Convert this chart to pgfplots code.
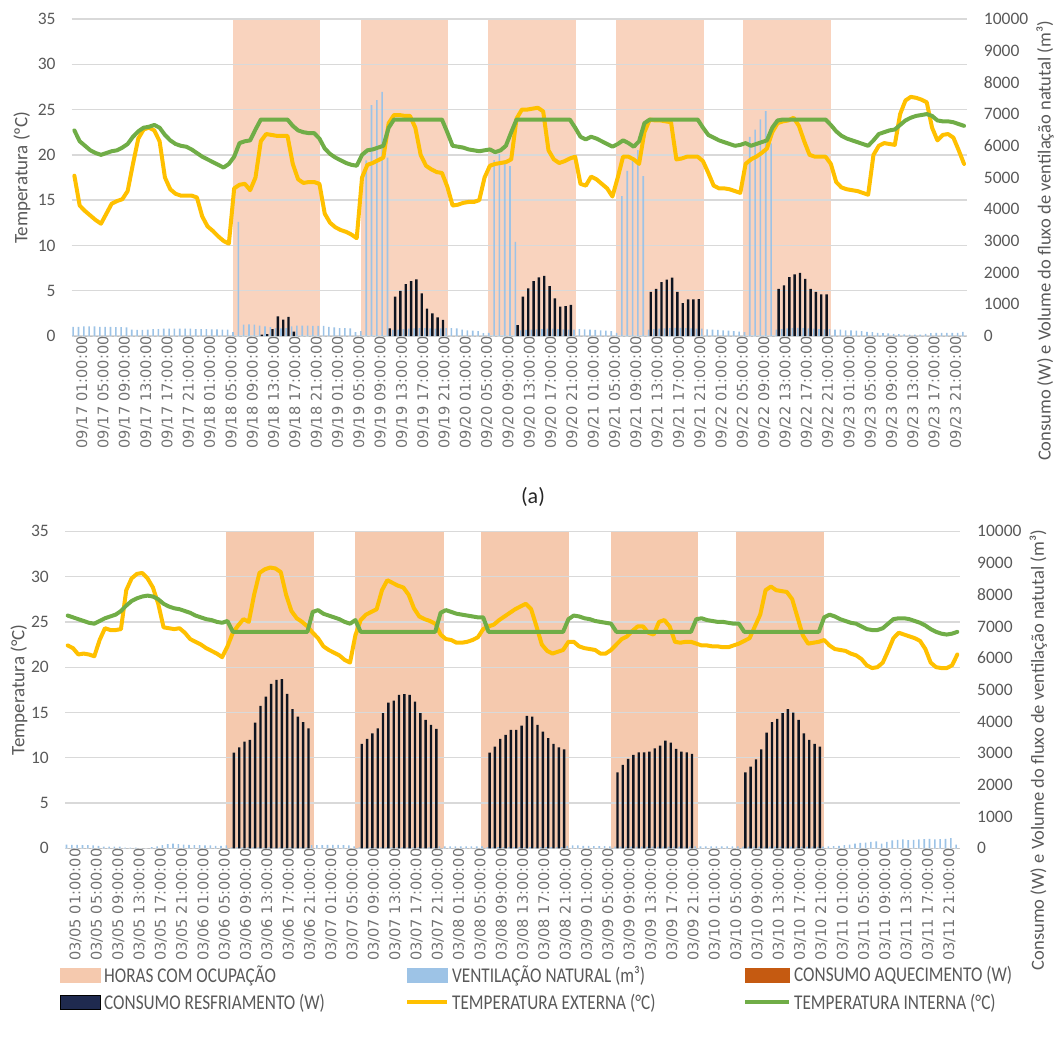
\documentclass[border=0pt]{standalone}
\usepackage{fontspec}
\setmainfont{Carlito}
\newfontfamily\dejavu{DejaVu Sans}
\usepackage{graphicx}
\usepackage{pgfplots}
\usepackage{pgfplotstable}
\pgfplotsset{compat=1.18}
\definecolor{occA}{HTML}{F9D3BE}
\definecolor{occB}{HTML}{F5C9AE}
\definecolor{vent}{HTML}{9DC3E6}
\definecolor{heat}{HTML}{C55A11}
\definecolor{cool}{HTML}{0E1420}
\definecolor{coolleg}{HTML}{1F2A4F}
\definecolor{tout}{HTML}{FFC000}
\definecolor{tin}{HTML}{70AD47}
\definecolor{gridc}{HTML}{D9D9D9}
\definecolor{txt}{HTML}{595959}

\pgfplotstableread{
tout tin vent cool
17.7 22.7 290 0
14.4 21.5 290 0
13.8 21.0 300 0
13.3 20.5 300 0
12.8 20.2 300 0
12.4 20.0 290 0
13.5 20.2 290 0
14.6 20.4 290 0
14.9 20.5 280 0
15.1 20.8 280 0
16.0 21.2 270 0
19.0 22.0 200 0
21.8 22.6 190 0
22.8 23.0 190 0
23.0 23.1 200 0
22.7 23.3 220 0
21.5 23.0 220 0
17.5 22.2 230 0
16.2 21.6 230 0
15.7 21.2 230 0
15.5 21.0 230 0
15.5 20.9 230 0
15.5 20.6 230 0
15.3 20.2 220 0
13.2 19.8 220 0
12.1 19.5 220 0
11.6 19.2 210 0
11.0 18.9 210 0
10.5 18.6 200 0
10.2 19.0 200 0
16.3 19.8 120 0
16.7 21.3 3600 0
16.8 21.5 360 0
16.1 21.6 370 0
17.5 22.8 360 0
21.5 23.9 330 40
22.3 23.9 300 60
22.2 23.9 280 220
22.1 23.9 250 620
22.1 23.9 240 520
22.1 23.9 250 600
19.0 23.2 300 140
17.3 22.7 330 0
16.9 22.5 330 0
17.0 22.4 330 0
17.0 22.4 320 0
16.8 21.8 320 0
13.5 20.7 320 0
12.5 20.1 290 0
12.0 19.7 270 0
11.7 19.4 250 0
11.5 19.1 250 0
11.2 18.9 240 0
10.8 18.8 120 0
17.5 20.0 150 0
18.9 20.5 5540 0
19.1 20.6 7280 0
19.4 20.8 7440 0
19.7 21.0 7700 0
23.5 23.0 5630 240
24.4 23.9 190 1240
24.4 23.9 200 1420
24.3 23.9 220 1640
24.3 23.9 230 1735
23.0 23.9 240 1785
20.0 23.9 250 1345
18.8 23.9 250 860
18.4 23.9 240 715
18.1 23.9 230 590
18.0 23.9 240 505
16.5 22.5 250 0
14.4 21.0 250 0
14.5 20.9 240 0
14.7 20.8 200 0
14.8 20.6 180 0
14.8 20.5 170 0
15.0 20.4 150 0
17.5 20.5 90 0
18.8 20.6 100 0
19.0 20.3 5550 0
19.1 20.5 5740 0
19.2 21.0 5540 0
19.5 22.5 5360 0
24.0 23.9 2970 347
25.0 23.9 180 1240
25.0 23.9 190 1500
25.1 23.9 200 1735
25.2 23.9 210 1850
24.8 23.9 220 1900
20.5 23.9 230 1575
19.5 23.9 230 1190
19.1 23.9 220 925
19.3 23.9 210 945
19.6 23.9 200 980
19.8 23.0 200 0
16.8 22.0 220 0
16.6 21.7 210 0
17.6 22.0 200 0
17.3 21.8 190 0
16.8 21.5 180 0
16.3 21.2 170 0
15.4 20.9 150 0
17.5 21.2 100 0
19.8 21.6 4410 0
19.8 21.3 5210 0
19.5 20.9 5600 0
19.0 21.5 5860 0
22.5 23.5 5040 0
23.9 23.9 200 1390
23.8 23.9 220 1490
23.8 23.9 230 1700
23.7 23.9 240 1780
23.6 23.9 250 1840
19.5 23.9 260 1390
19.6 23.9 260 1040
19.8 23.9 250 1155
19.8 23.9 240 1155
19.8 23.9 230 1160
19.3 23.0 230 0
18.0 22.2 210 0
16.6 21.9 200 0
16.3 21.6 190 0
16.3 21.4 180 0
16.2 21.2 170 0
16.0 21.0 150 0
15.8 21.1 140 0
19.0 21.3 120 0
19.5 21.0 6280 0
19.8 21.2 6510 0
20.2 21.4 6830 0
20.7 21.6 7090 0
22.5 23.0 6080 0
23.5 23.8 200 1490
23.7 23.9 220 1600
23.8 23.9 240 1860
24.1 23.9 250 1945
23.2 23.9 260 1990
21.5 23.9 250 1800
20.0 23.9 240 1490
19.8 23.9 230 1390
19.8 23.9 220 1310
19.8 23.9 210 1310
19.0 23.3 220 0
17.0 22.6 200 0
16.4 22.1 200 0
16.2 21.8 180 0
16.1 21.6 180 0
16.0 21.4 170 0
15.8 21.2 150 0
15.6 21.0 130 0
20.0 21.6 120 0
21.0 22.3 100 0
21.3 22.5 90 0
21.2 22.7 80 0
21.1 22.8 70 0
24.5 23.3 60 0
26.0 23.8 50 0
26.4 24.1 40 0
26.3 24.3 40 0
26.1 24.4 40 0
25.8 24.5 70 0
23.0 24.3 90 0
21.6 23.8 100 0
22.2 23.7 100 0
22.3 23.7 100 0
21.9 23.6 100 0
20.5 23.4 100 0
19.0 23.2 130 0
}\tabA

\pgfplotstableread{
tout tin vent cool
22.4 25.7 120 0
22.1 25.5 110 0
21.4 25.3 110 0
21.5 25.1 100 0
21.4 24.9 100 0
21.2 24.8 90 0
23.0 25.1 80 0
24.3 25.4 50 0
24.1 25.6 50 0
24.1 25.8 50 0
24.2 26.2 50 0
28.5 26.8 20 0
29.8 27.3 20 0
30.3 27.6 20 0
30.4 27.8 0 0
29.8 27.9 0 0
28.8 27.8 40 0
27.0 27.5 60 0
24.4 27.0 100 0
24.3 26.7 130 0
24.2 26.5 150 0
24.3 26.4 130 0
23.8 26.2 120 0
23.1 26.0 110 0
22.8 25.7 100 0
22.5 25.5 100 0
22.1 25.3 90 0
21.8 25.2 90 0
21.5 25.0 80 0
21.1 24.9 80 0
22.3 25.1 90 0
23.8 23.9 30 3019
24.6 23.9 30 3187
25.3 23.9 30 3366
25.0 23.9 30 3419
28.0 23.9 30 3966
30.4 23.9 30 4492
30.8 23.9 30 4787
31.0 23.9 30 5186
30.9 23.9 30 5313
30.5 23.9 30 5334
28.0 23.9 30 4871
26.2 23.9 30 4387
25.4 23.9 30 4155
25.0 23.9 30 3977
24.5 23.9 30 3787
23.8 26.1 100 0
23.2 26.3 100 0
22.3 25.9 100 0
21.9 25.7 110 0
21.6 25.5 110 0
21.3 25.3 110 0
20.8 25.0 100 0
20.5 24.8 90 0
23.5 25.2 60 0
25.2 23.9 30 3293
25.8 23.9 30 3451
26.1 23.9 30 3629
26.4 23.9 30 3787
28.5 23.9 30 4261
29.6 23.9 30 4597
29.3 23.9 30 4660
29.0 23.9 30 4839
28.8 23.9 30 4860
28.0 23.9 30 4839
26.5 23.9 30 4629
25.6 23.9 30 4261
25.3 23.9 30 4050
25.1 23.9 30 3892
24.8 23.9 30 3766
23.6 26.0 60 0
23.1 26.3 60 0
23.0 26.1 60 0
22.7 25.9 60 0
22.7 25.8 60 0
22.8 25.7 60 0
23.0 25.6 60 0
23.3 25.5 60 0
24.2 25.5 60 0
24.5 23.9 40 3019
24.7 23.9 40 3208
25.2 23.9 40 3451
25.6 23.9 40 3577
26.0 23.9 40 3735
26.4 23.9 40 3735
26.7 23.9 40 3871
27.0 23.9 40 4176
26.4 23.9 40 4155
24.5 23.9 40 3892
22.5 23.9 40 3682
21.8 23.9 40 3472
21.5 23.9 40 3293
21.7 23.9 40 3187
21.9 23.9 40 3124
22.8 25.3 80 0
22.8 25.7 90 0
22.3 25.6 90 0
22.1 25.4 80 0
22.0 25.3 80 0
21.9 25.1 70 0
21.5 25.0 70 0
21.5 24.9 70 0
21.9 24.8 60 0
22.5 23.9 50 2399
23.1 23.9 50 2630
23.4 23.9 50 2819
24.0 23.9 50 2946
24.5 23.9 50 3030
24.5 23.9 50 3030
23.8 23.9 50 3051
23.6 23.9 50 3156
25.0 23.9 50 3240
25.2 23.9 50 3398
24.5 23.9 50 3335
22.8 23.9 50 3135
22.7 23.9 50 3051
22.8 23.9 50 3030
22.8 23.9 50 2977
22.6 25.3 60 0
22.4 25.4 60 0
22.4 25.2 60 0
22.3 25.1 60 0
22.3 25.0 60 0
22.2 25.0 60 0
22.2 24.9 60 0
22.4 24.8 60 0
22.6 24.8 60 0
22.9 23.9 50 2399
23.2 23.9 50 2577
24.5 23.9 50 2809
25.8 23.9 50 3124
28.5 23.9 50 3650
28.9 23.9 50 3977
28.5 23.9 50 4082
28.4 23.9 50 4261
28.3 23.9 50 4387
27.5 23.9 50 4282
25.5 23.9 50 4050
23.5 23.9 50 3629
22.6 23.9 50 3419
22.7 23.9 50 3293
22.8 23.9 50 3208
23.0 25.5 50 0
22.4 25.8 60 0
22.0 25.6 70 0
21.9 25.3 80 0
21.8 25.1 100 0
21.5 24.9 120 0
21.3 24.8 150 0
20.9 24.5 170 0
20.2 24.2 180 0
19.9 24.1 200 0
20.0 24.1 220 0
20.5 24.3 150 0
21.8 24.8 200 0
23.2 25.3 250 0
23.8 25.4 270 0
23.6 25.4 280 0
23.4 25.3 260 0
23.2 25.1 270 0
22.9 24.9 280 0
22.0 24.6 290 0
20.5 24.2 300 0
20.0 23.9 280 0
19.9 23.7 290 0
19.9 23.6 300 0
20.2 23.7 320 0
21.4 23.9 120 0
}\tabB

\newcommand\lgt[2]{\makebox[#1][l]{\hspace{3pt}\scalebox{0.82}[1]{\fontsize{21}{22}\selectfont\strut #2}}}

\pgfplotsset{
  base/.style={scale only axis, width=895pt, height=317pt, xmin=-0.5, xmax=167.5,
    enlargelimits=false, axis line style={draw=none}, major tick length=0pt,
    tick style={draw=none}},
  leftax/.style={base, ymin=0, ymax=35, ytick={0,5,...,35}, ytick pos=left, xtick={0,4,...,164}, xtick pos=left,
    xticklabel style={font=\dejavu\fontsize{14.6}{15}\selectfont, text=txt!85, rotate=90, anchor=east, inner sep=0pt, yshift=-8pt},
    yticklabel style={font=\fontsize{17.5}{18}\selectfont, text=txt, anchor=east, inner sep=0pt, xshift=-16pt},
    /pgf/number format/assume math mode=true,
    ylabel style={font=\fontsize{19}{20}\selectfont, text=txt, rotate=0, anchor=center, inner sep=0pt}},
  rightax/.style={base, ymin=0, ymax=10000, ytick={0,1000,...,10000}, ytick pos=right, yticklabel pos=right, xtick=\empty,
    scaled y ticks=false,
    /pgf/number format/1000 sep={}, /pgf/number format/assume math mode=true,
    yticklabel style={font=\fontsize{17.5}{18}\selectfont, text=txt, anchor=west, inner sep=0pt, xshift=17pt},
    extra y ticks={0,1428.5714,2857.1429,4285.7143,5714.2857,7142.8571,8571.4286,10000},
    extra y tick labels={}, extra y tick style={grid=major},
    major grid style={draw=gridc, line width=1.3pt},
    ylabel={Consumo (W) e Volume do fluxo de ventilação natutal (m³)},
    ylabel style={font=\fontsize{18.5}{19}\selectfont, text=txt, rotate=0, anchor=center, inner sep=0pt,
      at={(axis description cs:1.0875,0.30)}}},
  lineax/.style={base, ymin=0, ymax=35, xtick=\empty, ytick=\empty},
  vbar/.style={ybar, bar width=0.3, bar shift=-0.22, fill=vent, draw=none},
  cbar/.style={ybar, bar width=0.45, bar shift=0.2, fill=cool, draw=none},
  lout/.style={draw=tout, line width=4pt, line join=round, line cap=round, mark=none},
  lin/.style={draw=tin, line width=4pt, line join=round, line cap=round, mark=none},
}

\begin{document}
\begin{tikzpicture}
\useasboundingbox (0pt,0pt) rectangle (1057pt,-1043pt);

% ---------------- Panel (a) ----------------
\begin{axis}[leftax, at={(71.7pt,-336pt)}, anchor=south west,
  ylabel={Temperatura (ºC)}, ylabel style={at={(axis description cs:-0.0555,0.5)}},
  xticklabels={09/17 01:00:00,09/17 05:00:00,09/17 09:00:00,09/17 13:00:00,09/17 17:00:00,09/17 21:00:00,
  09/18 01:00:00,09/18 05:00:00,09/18 09:00:00,09/18 13:00:00,09/18 17:00:00,09/18 21:00:00,
  09/19 01:00:00,09/19 05:00:00,09/19 09:00:00,09/19 13:00:00,09/19 17:00:00,09/19 21:00:00,
  09/20 01:00:00,09/20 05:00:00,09/20 09:00:00,09/20 13:00:00,09/20 17:00:00,09/20 21:00:00,
  09/21 01:00:00,09/21 05:00:00,09/21 09:00:00,09/21 13:00:00,09/21 17:00:00,09/21 21:00:00,
  09/22 01:00:00,09/22 05:00:00,09/22 09:00:00,09/22 13:00:00,09/22 17:00:00,09/22 21:00:00,
  09/23 01:00:00,09/23 05:00:00,09/23 09:00:00,09/23 13:00:00,09/23 17:00:00,09/23 21:00:00}]
\addplot[fill=occA, draw=none] coordinates {(29.7,35) (46.2,35)} \closedcycle;
\addplot[fill=occA, draw=none] coordinates {(53.8,35) (70.2,35)} \closedcycle;
\addplot[fill=occA, draw=none] coordinates {(77.7,35) (94.1,35)} \closedcycle;
\addplot[fill=occA, draw=none] coordinates {(101.7,35) (118.2,35)} \closedcycle;
\addplot[fill=occA, draw=none] coordinates {(125.6,35) (142.0,35)} \closedcycle;
\end{axis}
\begin{axis}[rightax, at={(71.7pt,-336pt)}, anchor=south west]
\addplot[vbar] table[x expr=\coordindex, y=vent] {\tabA};
\addplot[cbar] table[x expr=\coordindex, y=cool] {\tabA};
\end{axis}
\begin{axis}[lineax, at={(71.7pt,-336pt)}, anchor=south west]
\addplot[lout] table[x expr=\coordindex, y=tout] {\tabA};
\addplot[lin] table[x expr=\coordindex, y=tin] {\tabA};
\end{axis}

\node[font=\fontsize{22}{24}\selectfont, text=black!85] at (533pt,-497pt) {(a)};

% ---------------- Panel (b) ----------------
\begin{axis}[leftax, at={(65pt,-848.3pt)}, anchor=south west,
  ylabel={Temperatura (°C)}, ylabel style={at={(axis description cs:-0.0514,0.5)}},
  xticklabels={03/05 01:00:00,03/05 05:00:00,03/05 09:00:00,03/05 13:00:00,03/05 17:00:00,03/05 21:00:00,
  03/06 01:00:00,03/06 05:00:00,03/06 09:00:00,03/06 13:00:00,03/06 17:00:00,03/06 21:00:00,
  03/07 01:00:00,03/07 05:00:00,03/07 09:00:00,03/07 13:00:00,03/07 17:00:00,03/07 21:00:00,
  03/08 01:00:00,03/08 05:00:00,03/08 09:00:00,03/08 13:00:00,03/08 17:00:00,03/08 21:00:00,
  03/09 01:00:00,03/09 05:00:00,03/09 09:00:00,03/09 13:00:00,03/09 17:00:00,03/09 21:00:00,
  03/10 01:00:00,03/10 05:00:00,03/10 09:00:00,03/10 13:00:00,03/10 17:00:00,03/10 21:00:00,
  03/11 01:00:00,03/11 05:00:00,03/11 09:00:00,03/11 13:00:00,03/11 17:00:00,03/11 21:00:00}]
\addplot[fill=occB, draw=none] coordinates {(29.8,35) (46.3,35)} \closedcycle;
\addplot[fill=occB, draw=none] coordinates {(54.0,35) (70.6,35)} \closedcycle;
\addplot[fill=occB, draw=none] coordinates {(77.6,35) (94.1,35)} \closedcycle;
\addplot[fill=occB, draw=none] coordinates {(101.9,35) (118.4,35)} \closedcycle;
\addplot[fill=occB, draw=none] coordinates {(125.5,35) (141.9,35)} \closedcycle;
\end{axis}
\begin{axis}[rightax, at={(65pt,-848.3pt)}, anchor=south west,
  ylabel style={at={(axis description cs:1.0875,0.31)}}]
\addplot[vbar] table[x expr=\coordindex, y=vent] {\tabB};
\addplot[cbar] table[x expr=\coordindex, y=cool] {\tabB};
\end{axis}
\begin{axis}[lineax, at={(65pt,-848.3pt)}, anchor=south west,
  legend columns=3, legend cell align=left,
  legend style={at={(axis description cs:-0.0056,-0.37)}, anchor=north west, draw=none, fill=none,
    inner sep=0pt, row sep=10pt, text=txt, nodes={inner sep=0pt},
    /tikz/every odd column/.append style={column sep=0pt}}]
\addlegendimage{legend image code/.code={\fill[occB] (0pt,-7pt) rectangle (40pt,7pt);}}
\addlegendentry{\lgt{304pt}{HORAS COM OCUPAÇÃO}}
\addlegendimage{legend image code/.code={\fill[vent] (0pt,-7pt) rectangle (40pt,7pt);}}
\addlegendentry{\lgt{294pt}{VENTILAÇÃO NATURAL (m³)}}
\addlegendimage{legend image code/.code={\fill[heat] (0pt,-7pt) rectangle (44pt,7pt);}}
\addlegendentry{\lgt{10pt}{CONSUMO AQUECIMENTO (W)}}
\addlegendimage{legend image code/.code={\fill[coolleg, draw=black, line width=1pt] (0pt,-7pt) rectangle (40pt,7pt);}}
\addlegendentry{\lgt{304pt}{CONSUMO RESFRIAMENTO (W)}}
\addlegendimage{legend image code/.code={\draw[tout, line width=4pt] (0pt,0pt) -- (40pt,0pt);}}
\addlegendentry{\lgt{294pt}{TEMPERATURA EXTERNA (°C)}}
\addlegendimage{legend image code/.code={\draw[tin, line width=4pt] (0pt,0pt) -- (44pt,0pt);}}
\addlegendentry{\lgt{10pt}{TEMPERATURA INTERNA (°C)}}
\addplot[lout, forget plot] table[x expr=\coordindex, y=tout] {\tabB};
\addplot[lin, forget plot] table[x expr=\coordindex, y=tin] {\tabB};
\end{axis}
\end{tikzpicture}
\end{document}
